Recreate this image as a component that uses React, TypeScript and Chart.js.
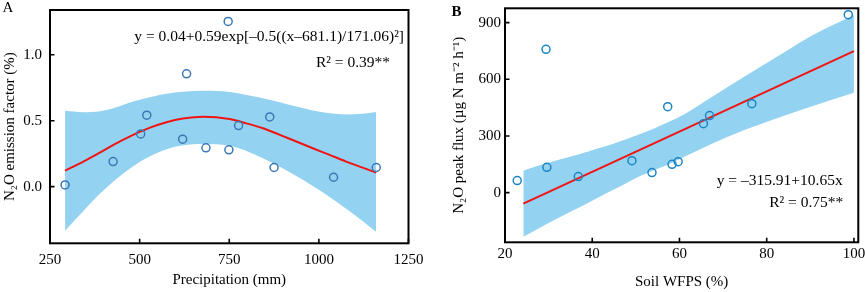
import React, { useEffect, useRef } from 'react';
import { Chart, registerables } from 'chart.js';

Chart.register(...registerables);

// ---------- Panel A data ----------
const precipTicks = [250, 500, 750, 1000, 1250];
const efTicks = [0, 0.5, 1.0];
const precipitation = [292, 426, 503, 520, 620, 631, 685, 747, 749, 776, 863, 875, 1041, 1160];
const emissionFactor = [0.013, 0.19, 0.40, 0.542, 0.36, 0.856, 0.294, 1.253, 0.279, 0.463, 0.529, 0.145, 0.071, 0.145];
const fitAX = [292, 343, 389, 436, 482, 529, 575, 621, 677, 751, 798, 844, 891, 937, 983, 1030, 1076, 1122, 1160];
const fitAY = [0.121, 0.19, 0.258, 0.33, 0.393, 0.448, 0.489, 0.516, 0.531, 0.513, 0.48, 0.443, 0.393, 0.342, 0.291, 0.241, 0.19, 0.144, 0.106];
const bandAUpper = [0.575, 0.565, 0.572, 0.603, 0.645, 0.679, 0.704, 0.719, 0.727, 0.718, 0.696, 0.671, 0.641, 0.607, 0.577, 0.557, 0.548, 0.552, 0.567];
const bandALower = [-0.334, -0.185, -0.055, 0.06, 0.155, 0.23, 0.284, 0.314, 0.324, 0.31, 0.271, 0.216, 0.15, 0.08, 0.005, -0.078, -0.168, -0.26, -0.345];

// ---------- Panel B data ----------
const wfpsTicks = [20, 40, 60, 80, 100];
const fluxTicks = [0, 300, 600, 900];
const wfps = [22.8, 29.4, 29.6, 36.8, 49.1, 53.7, 57.3, 58.3, 59.7, 65.5, 66.9, 76.6, 98.7];
const peakFlux = [64, 759, 134, 85, 169, 106, 455, 150, 164, 365, 408, 471, 942];
const fitBX = [24.2, 100];
const fitBY = [-58, 749];
const bandBX = [24.2, 27.4, 31.3, 35.1, 38.9, 42.8, 46.6, 50.4, 54.3, 58.1, 61.1, 67.7, 75.3, 83, 90.6, 100];
const bandBUpper = [116, 141, 168, 191, 217, 244, 274, 305, 341, 380, 415, 510, 620, 729, 835, 941];
const bandBLower = [-233, -194, -145, -100, -56, -8, 35, 81, 120, 155, 190, 262, 335, 399, 459, 529];

const FONT = '"Liberation Serif", "Times New Roman", Times, serif';
const BAND = '#93d2f0';
const RED = '#f01414';

const zip = (xs: number[], ys: number[]) => xs.map((x, i) => ({ x, y: ys[i] }));

type TextItem = { text: string; x: number; y: number; align: CanvasTextAlign; size: number; bold?: boolean };

const decorPlugin = (texts: TextItem[]) => ({
  id: 'decor',
  afterDraw(chart: any) {
    const { ctx, chartArea: a } = chart;
    const xs = chart.scales.x;
    const ys = chart.scales.y;
    ctx.save();
    ctx.strokeStyle = '#000';
    ctx.lineWidth = 1.6;
    ctx.beginPath();
    xs.ticks.forEach((t: any) => {
      const p = xs.getPixelForValue(t.value);
      ctx.moveTo(p, a.bottom);
      ctx.lineTo(p, a.bottom - 4.5);
    });
    ys.ticks.forEach((t: any) => {
      const p = ys.getPixelForValue(t.value);
      ctx.moveTo(a.left, p);
      ctx.lineTo(a.left + 4.5, p);
    });
    ctx.stroke();
    ctx.lineWidth = 2;
    ctx.strokeRect(a.left, a.top, a.right - a.left, a.bottom - a.top);
    ctx.fillStyle = '#000';
    ctx.textBaseline = 'alphabetic';
    texts.forEach((t) => {
      ctx.font = `${t.bold ? 'bold ' : ''}${t.size}px ${FONT}`;
      ctx.textAlign = t.align;
      ctx.fillText(t.text, t.x, t.y);
    });
    ctx.restore();
  },
});

function axis(opts: {
  min: number; max: number; ticks: number[]; title: string; size: number;
  tickPad: number; titlePad: { top: number; bottom: number }; horizontal: boolean; decimals?: number;
}) {
  return {
    type: 'linear',
    min: opts.min,
    max: opts.max,
    afterBuildTicks: (s: any) => {
      s.ticks = opts.ticks.map((v) => ({ value: v }));
    },
    afterFit: (s: any) => {
      if (opts.horizontal) {
        s.height = opts.size;
        s.paddingLeft = 0;
        s.paddingRight = 0;
      } else {
        s.width = opts.size;
        s.paddingTop = 0;
        s.paddingBottom = 0;
      }
    },
    grid: { display: false, drawTicks: false },
    border: { display: false },
    ticks: {
      padding: opts.tickPad,
      color: '#000',
      font: { family: FONT, size: 15 },
      maxRotation: 0,
      autoSkip: false,
      callback: (v: any) => (opts.decimals !== undefined ? Number(v).toFixed(opts.decimals) : String(v)),
    },
    title: {
      display: true,
      text: opts.title,
      color: '#000',
      font: { family: FONT, size: 15 },
      padding: opts.titlePad,
    },
  };
}

const bandStyle = {
  showLine: true,
  pointRadius: 0,
  borderWidth: 0,
  borderColor: 'rgba(0,0,0,0)',
  cubicInterpolationMode: 'monotone',
};

function configA() {
  return {
    type: 'scatter',
    data: {
      datasets: [
        {
          data: zip(precipitation, emissionFactor),
          pointRadius: 4,
          pointBorderWidth: 1.5,
          pointBorderColor: '#3b78b5',
          pointBackgroundColor: 'rgba(0,0,0,0)',
          order: 0,
        },
        {
          data: zip(fitAX, fitAY),
          showLine: true,
          pointRadius: 0,
          borderColor: RED,
          borderWidth: 2,
          cubicInterpolationMode: 'monotone',
          order: 1,
        },
        { ...bandStyle, data: zip(fitAX, bandAUpper), backgroundColor: BAND, fill: '+1', order: 2 },
        { ...bandStyle, data: zip(fitAX, bandALower), fill: false, order: 3 },
      ],
    },
    options: {
      animation: false,
      responsive: false,
      events: [],
      layout: { padding: { left: 0, top: 10, right: 21.5, bottom: 0 } },
      plugins: { legend: { display: false }, tooltip: { enabled: false } },
      scales: {
        x: axis({ min: 250, max: 1250, ticks: precipTicks, title: 'Precipitation (mm)', size: 48.7, tickPad: 8, titlePad: { top: 0, bottom: 3 }, horizontal: true }),
        y: axis({ min: -0.43, max: 1.34, ticks: efTicks, title: 'N₂O emission factor (%)', size: 50, tickPad: 8, titlePad: { top: 1, bottom: 0 }, horizontal: false, decimals: 1 }),
      },
    },
    plugins: [
      decorPlugin([
        { text: 'A', x: 2.5, y: 12, align: 'left', size: 15 },
        { text: 'y = 0.04+0.59exp[–0.5((x–681.1)/171.06)²]', x: 404, y: 41, align: 'right', size: 15.5 },
        { text: 'R² = 0.39**', x: 390, y: 67, align: 'right', size: 15.5 },
      ]),
    ],
  };
}

function configB() {
  return {
    type: 'scatter',
    data: {
      datasets: [
        {
          data: zip(wfps, peakFlux),
          pointRadius: 4,
          pointBorderWidth: 1.5,
          pointBorderColor: '#1b86c5',
          pointBackgroundColor: 'rgba(0,0,0,0)',
          order: 0,
        },
        {
          data: zip(fitBX, fitBY),
          showLine: true,
          pointRadius: 0,
          borderColor: RED,
          borderWidth: 2,
          order: 1,
        },
        { ...bandStyle, data: zip(bandBX, bandBUpper), backgroundColor: BAND, fill: '+1', order: 2 },
        { ...bandStyle, data: zip(bandBX, bandBLower), fill: false, order: 3 },
      ],
    },
    options: {
      animation: false,
      responsive: false,
      events: [],
      layout: { padding: { left: 0, top: 8.3, right: 6.7, bottom: 0 } },
      plugins: { legend: { display: false }, tooltip: { enabled: false } },
      scales: {
        x: axis({ min: 20, max: 101, ticks: wfpsTicks, title: 'Soil WFPS (%)', size: 49.7, tickPad: 3, titlePad: { top: 0, bottom: 1 }, horizontal: true }),
        y: axis({ min: -263, max: 976, ticks: fluxTicks, title: 'N₂O peak flux (µg N m⁻² h⁻¹)', size: 75, tickPad: 4, titlePad: { top: 20, bottom: 0 }, horizontal: false }),
      },
    },
    plugins: [
      decorPlugin([
        { text: 'B', x: 21.5, y: 16, align: 'left', size: 15, bold: true },
        { text: 'y = –315.91+10.65x', x: 412.7, y: 185, align: 'right', size: 15.5 },
        { text: 'R² = 0.75**', x: 413.3, y: 206.7, align: 'right', size: 15.5 },
      ]),
    ],
  };
}

function ChartCanvas({ left, width, build }: { left: number; width: number; build: () => any }) {
  const ref = useRef<HTMLCanvasElement | null>(null);
  useEffect(() => {
    if (!ref.current) return;
    const chart = new Chart(ref.current, build());
    return () => chart.destroy();
  }, [build]);
  return (
    <canvas
      ref={ref}
      width={width}
      height={292}
      style={{ position: 'absolute', left, top: 0, width, height: 292, display: 'block' }}
    />
  );
}

export default function App() {
  return (
    <div style={{ position: 'absolute', left: 0, top: 0, width: 865, height: 292, background: '#fff', overflow: 'hidden' }}>
      <ChartCanvas left={0} width={430} build={configA} />
      <ChartCanvas left={430} width={435} build={configB} />
    </div>
  );
}
